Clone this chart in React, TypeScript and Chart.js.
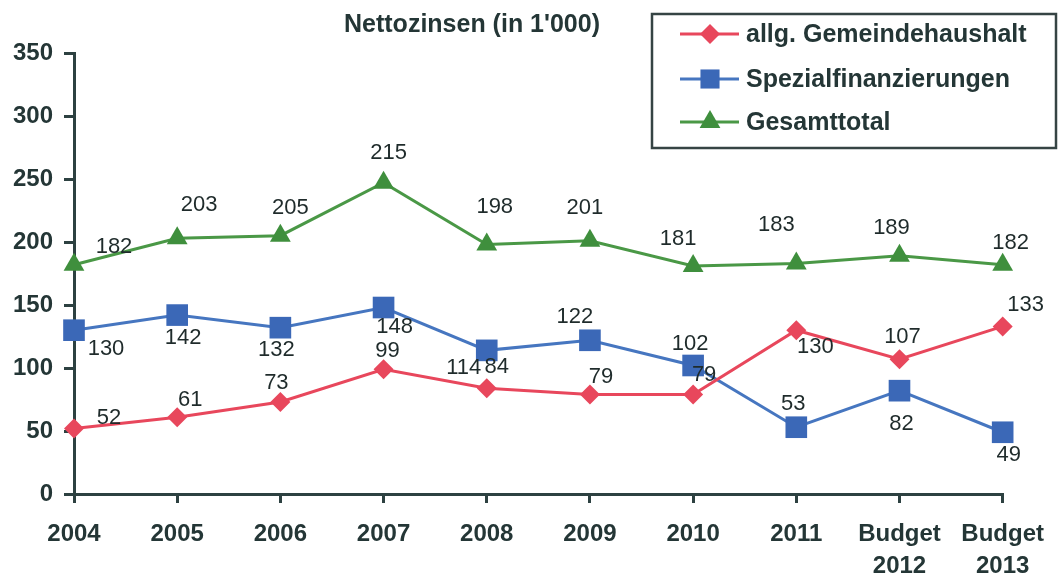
import React, { useEffect, useRef } from 'react';
import { Chart, registerables } from 'chart.js';

Chart.register(...registerables);

// ---------- data ----------
const categories: (string | string[])[] = [
  '2004', '2005', '2006', '2007', '2008', '2009', '2010', '2011',
  ['Budget', '2012'], ['Budget', '2013'],
];
const allgGemeindehaushalt = [52, 61, 73, 99, 84, 79, 79, 130, 107, 133];
const spezialfinanzierungen = [130, 142, 132, 148, 114, 122, 102, 53, 82, 49];
const gesamttotal = [182, 203, 205, 247, 198, 201, 181, 183, 189, 182];
// value labels as printed in the original (2007 total is labelled 215)
const gesamttotalLabels = [182, 203, 205, 215, 198, 201, 181, 183, 189, 182];
const yTicks = { min: 0, max: 350, step: 50 };
const titleText = "Nettozinsen (in 1'000)";

// ---------- style ----------
const FONT = '"Liberation Sans", Arial, Helvetica, sans-serif';
const TEXT = '#243636';
const AXIS = '#2d4141';
const RED = '#e8475c';
const BLUE = '#3b68b7';
const GREEN = '#3f8f3d';

// label offsets (dx, dy) from marker centre, per series & point
const labelOffsets: number[][][] = [
  [[35, -11], [13, -17], [-4, -19], [4, -18], [10, -21], [11, -18], [11, -20], [19, 17], [3, -22], [23, -21]],
  [[32, 19], [6, 23], [-4, 22], [11, 19], [-23, 18], [-15, -23], [-3, -22], [-3, -23], [2, 33], [6, 23]],
  [[40, -18], [22, -33], [10, -28], [5, -30], [8, -38], [-5, -33], [-15, -27], [-20, -38], [-8, -28], [8, -22]],
];

function drawMarker(ctx: CanvasRenderingContext2D, style: string, x: number, y: number, r: number, color: string) {
  ctx.save();
  ctx.fillStyle = color;
  ctx.beginPath();
  if (style === 'rectRot') {
    ctx.moveTo(x, y - r);
    ctx.lineTo(x + r, y);
    ctx.lineTo(x, y + r);
    ctx.lineTo(x - r, y);
  } else if (style === 'rect') {
    const h = r * Math.SQRT1_2;
    ctx.rect(x - h, y - h, 2 * h, 2 * h);
  } else {
    const s = Math.sin(Math.PI / 3) * r;
    ctx.moveTo(x, y - r);
    ctx.lineTo(x + s, y + r / 2);
    ctx.lineTo(x - s, y + r / 2);
  }
  ctx.closePath();
  ctx.fill();
  ctx.restore();
}

const decorPlugin = {
  id: 'decor',
  afterDatasetsDraw(chart: any) {
    const ctx: CanvasRenderingContext2D = chart.ctx;
    ctx.save();
    ctx.font = `22px ${FONT}`;
    ctx.fillStyle = '#1f2b2b';
    ctx.textAlign = 'center';
    ctx.textBaseline = 'middle';
    chart.data.datasets.forEach((ds: any, di: number) => {
      const meta = chart.getDatasetMeta(di);
      const labels: number[] = ds.valueLabels || ds.data;
      meta.data.forEach((pt: any, i: number) => {
        const off = labelOffsets[di][i];
        ctx.fillText(String(labels[i]), pt.x + off[0], pt.y + off[1]);
      });
    });
    ctx.restore();
  },
  afterDraw(chart: any) {
    const ctx: CanvasRenderingContext2D = chart.ctx;
    ctx.save();
    // title
    ctx.font = `bold 25px ${FONT}`;
    ctx.fillStyle = TEXT;
    ctx.textAlign = 'center';
    ctx.textBaseline = 'middle';
    ctx.fillText(titleText, 472, 25);
    // legend box
    ctx.strokeStyle = '#364444';
    ctx.lineWidth = 2.5;
    ctx.strokeRect(652, 14, 404, 134);
    const rows = [34, 79, 122];
    chart.data.datasets.forEach((ds: any, i: number) => {
      const y = rows[i];
      ctx.strokeStyle = ds.borderColor;
      ctx.lineWidth = 3;
      ctx.beginPath();
      ctx.moveTo(680, y);
      ctx.lineTo(739, y);
      ctx.stroke();
      drawMarker(ctx, ds.pointStyle, 710, y, ds.pointStyle === 'rect' ? 13.5 : ds.pointRadius, ds.backgroundColor);
      ctx.font = `bold 25px ${FONT}`;
      ctx.fillStyle = TEXT;
      ctx.textAlign = 'left';
      ctx.textBaseline = 'middle';
      ctx.fillText(ds.label, 746, y + 1);
    });
    ctx.restore();
  },
};

export default function App() {
  const ref = useRef<HTMLCanvasElement>(null);
  useEffect(() => {
    document.body.style.margin = '0';
    const canvas = ref.current!;
    const chart = new Chart(canvas, {
      type: 'line',
      data: {
        labels: categories as any,
        datasets: [
          {
            label: 'allg. Gemeindehaushalt',
            data: allgGemeindehaushalt,
            borderColor: RED,
            backgroundColor: RED,
            borderWidth: 3,
            pointStyle: 'rectRot',
            pointRadius: 10,
            pointBorderWidth: 0,
            pointBackgroundColor: RED,
            tension: 0,
            clip: false as any,
          },
          {
            label: 'Spezialfinanzierungen',
            data: spezialfinanzierungen,
            borderColor: '#4676c0',
            backgroundColor: BLUE,
            borderWidth: 3,
            pointStyle: 'rect',
            pointRadius: 15.3,
            pointBorderWidth: 0,
            pointBackgroundColor: BLUE,
            tension: 0,
            clip: false as any,
          },
          {
            label: 'Gesamttotal',
            data: gesamttotal,
            valueLabels: gesamttotalLabels,
            borderColor: '#4a9846',
            backgroundColor: GREEN,
            borderWidth: 3,
            pointStyle: 'triangle',
            pointRadius: 12,
            pointBorderWidth: 0,
            pointBackgroundColor: GREEN,
            tension: 0,
            clip: false as any,
          } as any,
        ],
      },
      options: {
        responsive: false,
        animation: false,
        layout: { padding: { left: 0, top: 53, right: 55, bottom: 0 } },
        plugins: {
          legend: { display: false },
          title: { display: false },
          tooltip: { enabled: false },
        },
        scales: {
          x: {
            type: 'category',
            offset: false,
            grid: {
              display: true,
              drawOnChartArea: false,
              drawTicks: true,
              tickLength: 9,
              tickWidth: 3,
              tickColor: AXIS,
              color: AXIS,
              lineWidth: 3,
            },
            border: { display: true, color: AXIS, width: 3 },
            ticks: {
              autoSkip: false,
              maxRotation: 0,
              minRotation: 0,
              padding: 15,
              color: TEXT,
              font: { family: FONT, size: 24, weight: 'bold', lineHeight: 1.35 },
            },
            afterFit(scale: any) {
              scale.height = 80;
            },
          },
          y: {
            min: yTicks.min,
            max: yTicks.max,
            grid: {
              display: true,
              drawOnChartArea: false,
              drawTicks: true,
              tickLength: 10,
              tickWidth: 3,
              tickColor: AXIS,
              color: AXIS,
              lineWidth: 3,
            },
            border: { display: true, color: AXIS, width: 3 },
            ticks: {
              stepSize: yTicks.step,
              padding: 11,
              color: TEXT,
              font: { family: FONT, size: 24, weight: 'bold' },
            },
            afterFit(scale: any) {
              scale.width = 74;
            },
          },
        },
      } as any,
      plugins: [decorPlugin],
    });
    return () => chart.destroy();
  }, []);
  return (
    <div style={{ width: 1059, height: 574 }}>
      <canvas ref={ref} width={1059} height={574} style={{ display: 'block' }} />
    </div>
  );
}
